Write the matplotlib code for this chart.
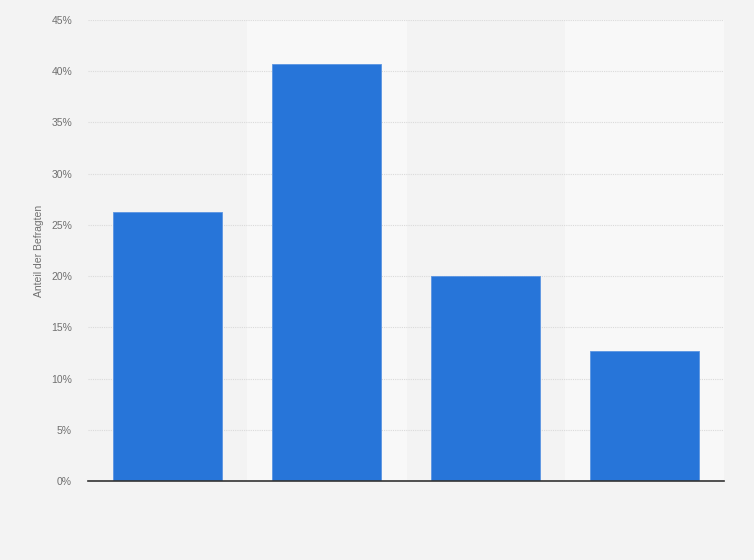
import matplotlib
matplotlib.use("Agg")

import matplotlib.pyplot as plt
from matplotlib.ticker import FuncFormatter

plt.rcParams["font.family"] = ["Liberation Sans", "DejaVu Sans"]

# Daten
kategorien = ["A", "B", "C", "D"]
anteile = [26.3, 40.7, 20.0, 12.7]
y_ticks = [0, 5, 10, 15, 20, 25, 30, 35, 40, 45]

fig = plt.figure(figsize=(7.54, 5.6), dpi=100)
fig.patch.set_facecolor("#f3f3f3")
ax = fig.add_axes([0.1167, 0.1411, 0.8435, 0.8232])
ax.set_facecolor("#f3f3f3")

x = list(range(len(kategorien)))

# Streifen im Hintergrund
for i in x:
    if i % 2 == 1:
        ax.axvspan(i - 0.5, i + 0.5, color="#f8f8f8", zorder=0)

ax.bar(x, anteile, width=0.686, color="#2775d9", edgecolor="#5b95e2",
       linewidth=0.6, zorder=3)

ax.set_xlim(-0.5, len(kategorien) - 0.5)
ax.set_ylim(0, 45)
ax.set_yticks(y_ticks)
ax.yaxis.set_major_formatter(FuncFormatter(lambda v, p: f"{v:.0f}%"))
ax.set_xticks([])

ax.grid(axis="y", color="#dadada", linestyle=(0, (1, 1)), linewidth=0.8, zorder=1)
ax.tick_params(axis="y", length=0, pad=11.5, labelsize=7.5, labelcolor="#707070")

for s in ["top", "right", "left"]:
    ax.spines[s].set_visible(False)
ax.spines["bottom"].set_color("#333333")
ax.spines["bottom"].set_linewidth(1.2)
ax.spines["bottom"].set_zorder(4)

ax.set_ylabel("Anteil der Befragten", fontsize=7.5, color="#707070", labelpad=5)

fig.savefig("out.png", dpi=100, facecolor=fig.get_facecolor())
